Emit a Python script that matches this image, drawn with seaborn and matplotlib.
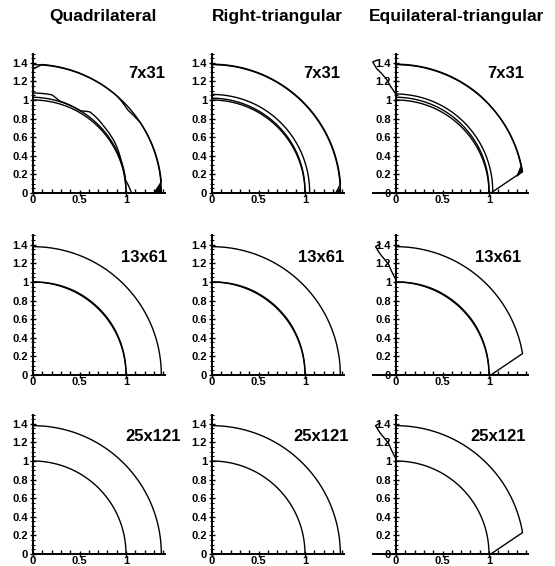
import numpy as np
import pandas as pd
import matplotlib
matplotlib.use("Agg")
import matplotlib.pyplot as plt
from matplotlib.ticker import FixedLocator, FuncFormatter
import seaborn as sns

sns.set_theme(style="white")
plt.rcParams["font.family"] = ["Liberation Sans", "DejaVu Sans"]
plt.rcParams["font.weight"] = "bold"
plt.rcParams["text.color"] = "black"
plt.rcParams["xtick.color"] = "black"
plt.rcParams["ytick.color"] = "black"

# ---------------------------------------------------------------- data
SCHEMES = ["Quadrilateral", "Right-triangular", "Equilateral-triangular"]
GRIDS = ["7x31", "13x61", "25x121"]

BODY_R = 1.0      # cylinder surface
SHOCK_R = 1.38    # outer (shock) boundary

# equilateral-triangular domain: outer arc ends at this corner, then a straight edge to the foot
EQ_CORNER_X, EQ_CORNER_Y = 1.36, 0.23
EQ_FOOT_X, EQ_FOOT_Y = 1.02, 0.0

# computed boundaries, polar nodes (angle in degrees, radius), angle increasing
quad7_body_a_theta = [0, 8, 20, 32, 42, 50, 55, 60, 74, 79, 90]
quad7_body_a_r     = [1.06, 1.005, 1.01, 1.035, 1.045, 1.06, 1.065, 1.02, 1.03, 1.075, 1.075]
quad7_body_b_theta = [0, 30, 60, 90]
quad7_body_b_r     = [1.0, 1.01, 1.02, 1.03]
quad7_shock_theta  = [0, 5, 33, 41, 49, 86, 90]
quad7_shock_r      = [1.30, 1.385, 1.38, 1.355, 1.38, 1.385, 1.33]

rtri7_body_a_theta = [0, 30, 60, 90]
rtri7_body_a_r     = [1.05, 1.055, 1.06, 1.06]
rtri7_body_b_theta = [0, 30, 60, 90]
rtri7_body_b_r     = [1.0, 1.01, 1.015, 1.02]
rtri7_shock_theta  = [0, 4, 90]
rtri7_shock_r      = [1.33, 1.385, 1.385]

eq7_body_a_theta = [0, 30, 60, 90]
eq7_body_a_r     = [1.04, 1.05, 1.06, 1.065]
eq7_body_b_theta = [0, 30, 60, 90]
eq7_body_b_r     = [1.0, 1.015, 1.025, 1.03]
eq7_shock_theta  = [9.6, 40, 50, 75, 90]
eq7_shock_r      = [1.375, 1.38, 1.385, 1.385, 1.385]

fine_body_theta = [0, 35, 65, 90]
fine_body_r     = [1.0, 1.008, 1.008, 1.0]

# left symmetry edge of the equilateral-triangular grids
eq7_edge_x = [-0.20, -0.25, -0.21, -0.15, -0.10, -0.06, -0.02, 0.0]
eq7_edge_y = [1.43, 1.41, 1.34, 1.28, 1.22, 1.15, 1.09, 1.06]
eq_edge_x  = [-0.17, -0.22, -0.17, -0.12, -0.08, -0.05, -0.02, 0.0]
eq_edge_y  = [1.41, 1.38, 1.30, 1.24, 1.19, 1.12, 1.06, 1.02]

# small overshoot wedges of the coarse grids
quad7_wedge_x = [1.30, 1.37, 1.37]
quad7_wedge_y = [0.0, 0.09, 0.0]
rtri7_wedge_x = [1.33, 1.38, 1.38]
rtri7_wedge_y = [0.0, 0.05, 0.0]
eq7_wedge_x = [1.30, 1.36, 1.34]
eq7_wedge_y = [0.18, 0.23, 0.28]

# label placement (left edge x, centre y) per row and column, in data units
label_x = [[1.02, 0.98, 0.98], [0.95, 0.93, 0.85], [0.99, 0.87, 0.80]]
label_y = [1.29, 1.26, 1.26]


def polar_xy(theta_nodes, r_nodes):
    th = np.linspace(theta_nodes[0], theta_nodes[-1], 600)
    r = np.interp(th, theta_nodes, r_nodes)
    t = np.deg2rad(th)
    return r * np.cos(t), r * np.sin(t)


def draw(ax, x, y, lw=1.0):
    df = pd.DataFrame({"x": x, "y": y})
    sns.lineplot(data=df, x="x", y="y", sort=False, estimator=None,
                 color="black", lw=lw, ax=ax)


def panel_curves(col, row):
    """Return polar curves, straight polylines and filled wedges for one panel."""
    polar, lines, wedges = [], [], []
    eq_theta0 = np.rad2deg(np.arctan2(EQ_CORNER_Y, EQ_CORNER_X))
    if col == 2:
        polar.append(([eq_theta0, 90], [SHOCK_R, SHOCK_R]))
        lines.append(([EQ_CORNER_X, EQ_FOOT_X], [EQ_CORNER_Y, EQ_FOOT_Y]))
        if row == 0:
            lines.append((eq7_edge_x, eq7_edge_y))
        else:
            lines.append((eq_edge_x, eq_edge_y))
    else:
        polar.append(([0, 90], [SHOCK_R, SHOCK_R]))
    polar.append(([0, 90], [BODY_R, BODY_R]))

    if row == 0:
        if col == 0:
            polar += [(quad7_body_a_theta, quad7_body_a_r),
                      (quad7_body_b_theta, quad7_body_b_r),
                      (quad7_shock_theta, quad7_shock_r)]
            wedges.append((quad7_wedge_x, quad7_wedge_y))
        elif col == 1:
            polar += [(rtri7_body_a_theta, rtri7_body_a_r),
                      (rtri7_body_b_theta, rtri7_body_b_r),
                      (rtri7_shock_theta, rtri7_shock_r)]
            wedges.append((rtri7_wedge_x, rtri7_wedge_y))
        else:
            polar += [(eq7_body_a_theta, eq7_body_a_r),
                      (eq7_body_b_theta, eq7_body_b_r),
                      (eq7_shock_theta, eq7_shock_r)]
            wedges.append((eq7_wedge_x, eq7_wedge_y))
    elif row == 1:
        polar.append((fine_body_theta, fine_body_r))
    return polar, lines, wedges


# ---------------------------------------------------------------- layout
W, H = 555, 566
fig = plt.figure(figsize=(W / 100, H / 100), dpi=100)
fig.patch.set_facecolor("white")

col_x0 = [33, 212, 396]     # pixel x of data origin
row_y0 = [193, 375, 554]    # pixel y (from top) of data origin
S = 93.0                    # pixels per data unit
YMIN, YMAX = -0.03, 1.55
XMAX = 1.45

title_cx = [103, 277, 457]
for name, cx in zip(SCHEMES, title_cx):
    fig.text(cx / W, 1 - 16 / H, name, ha="center", va="center",
             fontsize=12.5, fontweight="bold", color="black")

fmt = FuncFormatter(lambda v, p: f"{v:g}")

for row, grid in enumerate(GRIDS):
    for col, scheme in enumerate(SCHEMES):
        xmin = -0.3 if col == 2 else -0.05
        left = col_x0[col] + xmin * S
        top = row_y0[row] - YMAX * S
        width = (XMAX - xmin) * S
        height = (YMAX - YMIN) * S
        ax = fig.add_axes([left / W, 1 - (top + height) / H, width / W, height / H])
        ax.set_xlim(xmin, XMAX)
        ax.set_ylim(YMIN, YMAX)
        ax.patch.set_alpha(0)

        polar, lines, wedges = panel_curves(col, row)
        for th, r in polar:
            x, y = polar_xy(th, r)
            draw(ax, x, y)
        for x, y in lines:
            draw(ax, x, y)
        for x, y in wedges:
            ax.fill(x, y, color="black", lw=0.8)

        ax.text(label_x[row][col], label_y[row], grid, ha="left", va="center",
                fontsize=12, fontweight="bold", color="black")

        # axes styling
        for s in ["top", "right"]:
            ax.spines[s].set_visible(False)
        ax.spines["left"].set_position(("data", 0))
        ax.spines["bottom"].set_position(("data", 0))
        ax.spines["left"].set_bounds(0, 1.5)
        ax.spines["bottom"].set_bounds(-0.25 if col == 2 else 0, 1.42)
        for s in ["left", "bottom"]:
            ax.spines[s].set_color("black")
            ax.spines[s].set_linewidth(1.4)

        ax.set_xticks([0, 0.5, 1])
        ax.set_yticks(np.round(np.arange(0, 1.41, 0.2), 1))
        ax.xaxis.set_minor_locator(FixedLocator(np.round(np.arange(0, 1.41, 0.1), 2)))
        ax.yaxis.set_minor_locator(FixedLocator(np.round(np.arange(0, 1.51, 0.05), 2)))
        ax.xaxis.set_major_formatter(fmt)
        ax.yaxis.set_major_formatter(fmt)
        ax.tick_params(which="both", bottom=True, left=True, top=False, right=False)
        ax.tick_params(axis="x", which="major", direction="inout", length=5,
                       width=1, colors="black", labelsize=8, pad=-1)
        ax.tick_params(axis="x", which="minor", direction="in", length=3,
                       width=1, colors="black")
        ax.tick_params(axis="y", which="major", direction="inout", length=5,
                       width=1, colors="black", labelsize=8, pad=1)
        ax.tick_params(axis="y", which="minor", direction="inout", length=3,
                       width=0.8, colors="black")
        ax.set_xlabel("")
        ax.set_ylabel("")
        for lab in ax.get_xticklabels() + ax.get_yticklabels():
            lab.set_fontweight("bold")

fig.savefig("out.png", dpi=100, facecolor="white")
